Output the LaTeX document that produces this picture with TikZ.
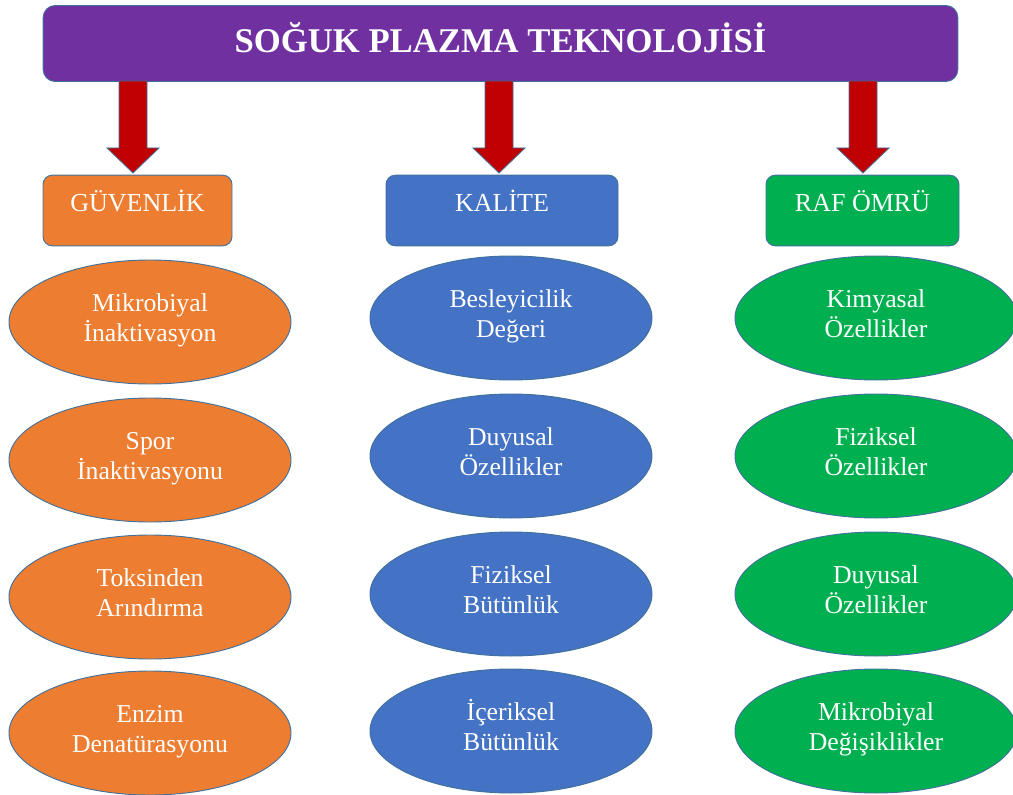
\documentclass[tikz,border=0pt]{standalone}
\usepackage{fontspec}
\setmainfont{Liberation Serif}
\usetikzlibrary{calc,shapes.geometric}
\definecolor{cpurple}{HTML}{7030A0}
\definecolor{corange}{HTML}{ED7D31}
\definecolor{cblue}{HTML}{4472C4}
\definecolor{cgreen}{HTML}{00B050}
\definecolor{cred}{HTML}{C00000}
\definecolor{cborder}{HTML}{41719C}
\begin{document}
\begin{tikzpicture}[x=0.75pt,y=-0.75pt,
  banner/.style={draw=cborder,line width=0.7pt,fill=cpurple,rounded corners=9pt,
    minimum width=686pt,minimum height=57pt,inner sep=0pt,text=white,
    font=\fontsize{26}{30}\selectfont\bfseries,text height=16pt,text depth=3.2pt},
  catbox/.style={draw=cborder,line width=0.7pt,rounded corners=7pt,inner sep=0pt,
    minimum height=53pt,text=white,font=\fontsize{19.5}{23}\selectfont,
    text height=12pt,text depth=9.8pt},
  oval/.style={ellipse,draw=cborder,line width=0.7pt,inner sep=0pt,
    minimum width=211.5pt,minimum height=93pt},
  ovaltext/.style={text=white,align=center,inner sep=0pt,
    font=\fontsize{19.3}{22.5}\selectfont,anchor=base},
  bigarrow/.style={fill=cred,draw=cborder,line width=0.6pt,line join=miter}]
\useasboundingbox (0,0) rectangle (1013,795);

\node[banner] (title) at (500.5,43.5) {SOĞUK PLAZMA TEKNOLOJİSİ};

\node[catbox,fill=corange,minimum width=141.75pt] (g) at (137.5,210.5) {GÜVENLİK};
\node[catbox,fill=cblue,minimum width=174pt] (k) at (502,210.5) {KALİTE};
\node[catbox,fill=cgreen,minimum width=144.75pt] (r) at (862.5,210.5) {RAF ÖMRÜ};

\coordinate (t1) at (133,173);
\coordinate (t2) at (499,173);
\coordinate (t3) at (863,173);
\foreach \t in {t1,t2,t3}{
  \draw[bigarrow] ($(title.south -| \t)+(-14,-1)$) -- ($(\t)+(-14,-25)$) -- ($(\t)+(-26,-25)$)
    -- (\t) -- ($(\t)+(26,-25)$) -- ($(\t)+(14,-25)$) -- ($(title.south -| \t)+(14,-1)$) -- cycle;
}

% ovals: name, x, y, fill, line1, line2
\foreach \n/\x/\y/\c/\a/\b in {
  g1/150/322/corange/Mikrobiyal/İnaktivasyon,
  g2/150/460/corange/Spor/İnaktivasyonu,
  g3/150/597/corange/Toksinden/Arındırma,
  g4/150/733/corange/Enzim/Denatürasyonu,
  k1/511/318/cblue/Besleyicilik/Değeri,
  k2/511/456/cblue/Duyusal/Özellikler,
  k3/511/594/cblue/Fiziksel/Bütünlük,
  k4/511/731/cblue/İçeriksel/Bütünlük,
  r1/876/318/cgreen/Kimyasal/Özellikler,
  r2/876/456/cgreen/Fiziksel/Özellikler,
  r3/876/594/cgreen/Duyusal/Özellikler,
  r4/876/731/cgreen/Mikrobiyal/Değişiklikler}{
  \node[oval,fill=\c] (\n) at (\x,\y) {};
  \node[ovaltext] (\n t) at ($(\n.center)+(0,19.5)$) {\a\\\b};
}
\end{tikzpicture}
\end{document}
